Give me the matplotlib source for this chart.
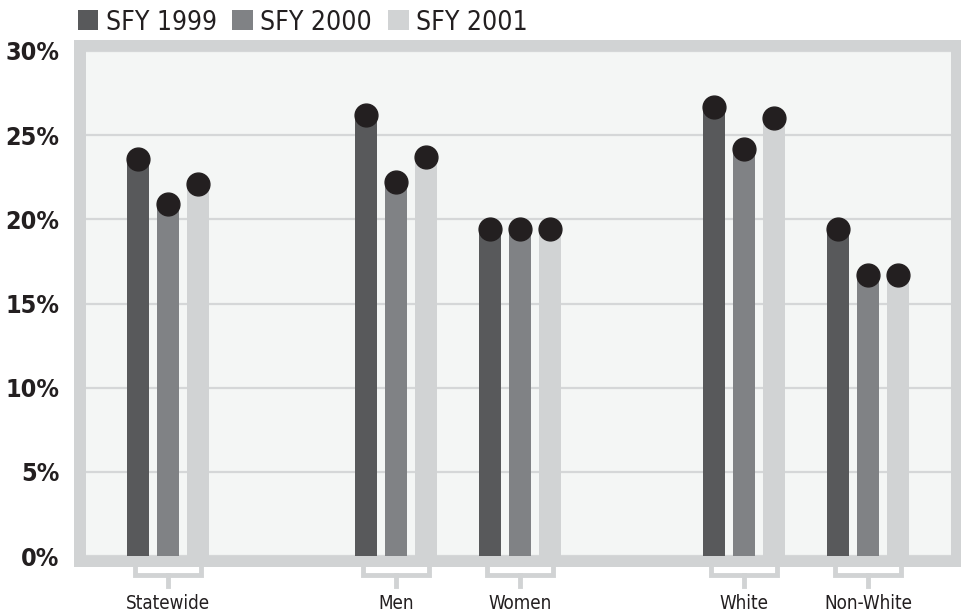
import matplotlib.pyplot as plt
from matplotlib.patches import Rectangle, Patch
import matplotlib.transforms as mtransforms

# data: share of people (%) by group and state fiscal year
groups = ['Statewide', 'Men', 'Women', 'White', 'Non-White']
years = ['SFY 1999', 'SFY 2000', 'SFY 2001']
sfy1999 = [23.6, 26.2, 19.4, 26.7, 19.4]
sfy2000 = [20.9, 22.2, 19.4, 24.2, 16.7]
sfy2001 = [22.1, 23.7, 19.4, 26.0, 16.7]
yticks = [0, 5, 10, 15, 20, 25, 30]

# group centres on the x axis (gaps between Statewide / gender / race)
group_x = [0, 1.84, 2.84, 4.645, 5.645]
offset = 0.242
bar_w = 0.177

colors = ['#58595b', '#808285', '#d1d3d4']
frame_col = '#d1d3d4'
dot_col = '#231f20'

plt.rcParams['font.family'] = ['DejaVu Sans']
plt.rcParams['font.stretch'] = 'condensed'

W, H = 965, 615
fig = plt.figure(figsize=(W / 100, H / 100), dpi=100)

# thick grey frame behind the plotting panel
fig.add_artist(Rectangle((74 / W, 1 - 567 / H), (961 - 74) / W, (567 - 40) / H,
                         transform=fig.transFigure, facecolor=frame_col,
                         edgecolor='none', zorder=-1))

ax = fig.add_axes([86 / W, 1 - 556 / H, 865 / W, 505 / H])
ax.set_facecolor('#f4f6f5')
for s in ax.spines.values():
    s.set_visible(False)

ax.set_xlim(-0.661, 6.315)
ax.set_ylim(0, 30)
ax.set_yticks(yticks)
ax.set_yticklabels([f'{t}%' for t in yticks], fontsize=18, fontweight='bold',
                   color='#231f20')
ax.tick_params(axis='y', length=0, pad=19)
ax.set_xticks([])
ax.yaxis.grid(True, color='#d5d7d8', linewidth=1.6)
ax.set_axisbelow(True)

for i, vals in enumerate([sfy1999, sfy2000, sfy2001]):
    xs = [g + (i - 1) * offset for g in group_x]
    ax.bar(xs, vals, width=bar_w, color=colors[i], zorder=2)
    ax.scatter(xs, vals, s=270, color=dot_col, zorder=3, clip_on=False)

# brackets under each group, hanging from the frame
trans = mtransforms.blended_transform_factory(ax.transData, ax.transAxes)
y_top, y_bar, y_stem = -0.021, -0.037, -0.059
half = 0.266
for g, name in zip(group_x, groups):
    ax.plot([g - half, g - half, g + half, g + half], [y_top, y_bar, y_bar, y_top],
            transform=trans, color=frame_col, lw=3.5, clip_on=False,
            solid_joinstyle='miter', zorder=1)
    ax.plot([g, g], [y_bar, y_stem], transform=trans, color=frame_col, lw=3.5,
            clip_on=False, zorder=1)
    ax.text(g, -0.095, name, transform=trans, ha='center', va='center',
            fontsize=13.5, color='#231f20')

handles = [Patch(facecolor=c, edgecolor='none') for c in colors]
fig.legend(handles, years, loc='upper left', bbox_to_anchor=(67 / W, 1 + 1 / H),
           ncol=3, frameon=False, fontsize=19, handlelength=0.78,
           handleheight=0.78, handletextpad=0.28, columnspacing=0.6,
           labelcolor='#231f20', borderaxespad=0)

fig.savefig('out.png', dpi=100)
